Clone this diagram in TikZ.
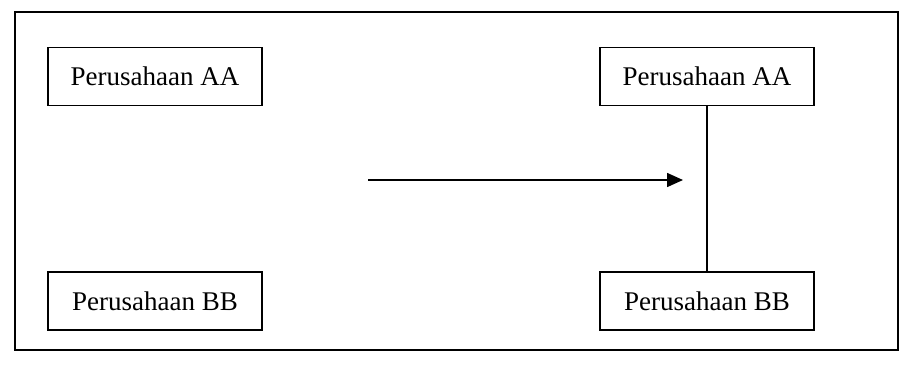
\documentclass[tikz,border=0pt]{standalone}
\usepackage{fontspec}
\setmainfont{Liberation Serif}
\usetikzlibrary{arrows.meta}
\begin{document}
\begin{tikzpicture}[x=1pt,y=-1pt,
  box/.style={draw,line width=1.6pt,minimum width=214pt,minimum height=58pt,inner sep=0pt,font=\fontsize{27}{32}\selectfont},
  link/.style={line width=1.6pt},
  frame/.style={line width=2pt}]
\useasboundingbox (0,0) rectangle (912,364);
\draw[frame] (15,12) rectangle (898,350);
\node[box] (la) at (155,76.5) {Perusahaan AA};
\node[box] (lb) at (155,301) {Perusahaan BB};
\node[box] (ra) at (707,76.5) {Perusahaan AA};
\node[box] (rb) at (707,301) {Perusahaan BB};
\coordinate (as) at (368,180);
\coordinate (ae) at (683,180);
\draw[link,-{Triangle[length=16pt,width=14pt]}] (as) -- (ae);
\draw[link] (ra.south) -- (rb.north);
\end{tikzpicture}
\end{document}
